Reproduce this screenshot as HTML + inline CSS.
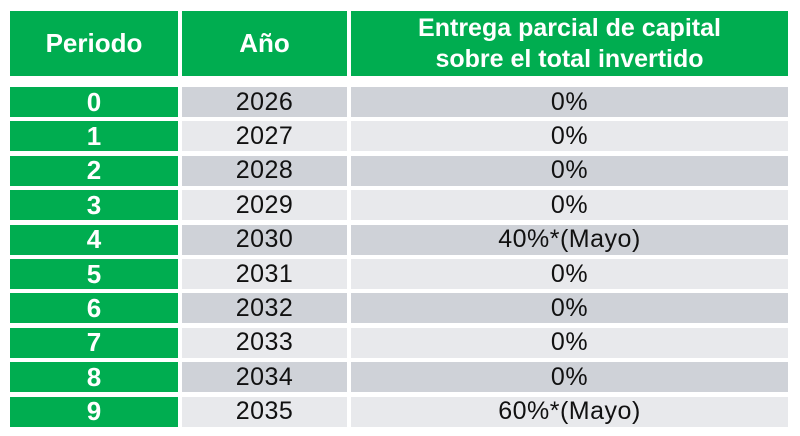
<!DOCTYPE html>
<html><head><style>
body{margin:0;width:800px;height:436px;background:#fff;position:relative;font-family:"Liberation Sans",sans-serif;overflow:hidden}
div.c{position:absolute;display:flex;align-items:center;justify-content:center;text-align:center}
.g{background:#00ad50;color:#fff;font-weight:bold}
.d{background:#cfd2d8;color:#111}
.l{background:#e8e9ec;color:#111}
</style></head><body>
<div class="c g" style="left:10px;top:11px;width:168px;height:65px;font-size:26px">Periodo</div>
<div class="c g" style="left:182px;top:11px;width:165px;height:65px;font-size:26px">Año</div>
<div class="c g" style="left:351px;top:11px;width:437px;height:65px;font-size:25px;line-height:31px">Entrega parcial de capital<br>sobre el total invertido</div>
<script>
var y=["2026","2027","2028","2029","2030","2031","2032","2033","2034","2035"];
var v=["0%","0%","0%","0%","40%*(Mayo)","0%","0%","0%","0%","60%*(Mayo)"];
var h="";
for(var i=0;i<10;i++){var t=87+i*34.4;var c=i%2?"l":"d";
h+='<div class="c g" style="left:10px;top:'+t+'px;width:168px;height:30px;font-size:26px">'+i+'</div>';
h+='<div class="c '+c+'" style="left:182px;top:'+t+'px;width:165px;height:30px;font-size:25px;letter-spacing:0.5px">'+y[i]+'</div>';
h+='<div class="c '+c+'" style="left:351px;top:'+t+'px;width:437px;height:30px;font-size:25px;letter-spacing:0.5px">'+v[i]+'</div>';}
document.write(h);
</script>
</body></html>
